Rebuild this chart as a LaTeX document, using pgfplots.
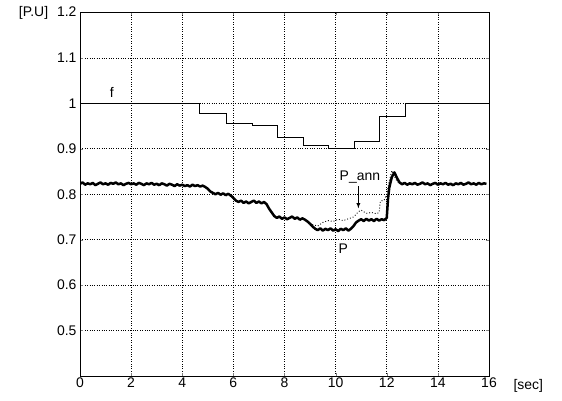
\documentclass[border=0pt]{standalone}
\usepackage{pgfplots}
\pgfplotsset{compat=1.18}
\usepackage{fontspec}
\setmainfont{Liberation Sans}
\begin{document}
\begin{tikzpicture}
\useasboundingbox (0,0) rectangle (562bp,401bp);
\begin{axis}[
  scale only axis,
  width=409bp, height=363.5bp,
  at={(80bp,25bp)}, anchor=south west,
  xmin=0, xmax=16, ymin=0.4, ymax=1.2,
  xtick={0,2,...,16},
  xticklabels={0,2,4,6,8,10,12,14,16},
  ytick={0.5,0.6,0.7,0.8,0.9,1.0,1.1,1.2},
  yticklabels={0.5,0.6,0.7,0.8,0.9,1,1.1,{[P.U]\hspace{9pt}1.2}},
  /pgf/number format/assume math mode=true,
  tick label style={font=\fontsize{14}{15}\selectfont},
  xticklabel style={yshift=2pt},
  yticklabel style={xshift=0pt},
  tick align=inside, major tick length=3pt,
  grid=major,
  major grid style={black, dotted, line width=0.7pt},
  axis line style={line width=1pt},
  clip=true,
]
\addplot[black, line width=0.8pt] coordinates {
(0,1.0) (4.69,1.0) (4.69,0.979) (5.74,0.979) (5.74,0.957) (6.75,0.957) (6.75,0.952) (7.73,0.952) (7.73,0.925) (8.72,0.925) (8.72,0.908) (9.7,0.908) (9.7,0.901) (10.72,0.901) (10.72,0.916) (11.73,0.916) (11.73,0.971) (12.71,0.971) (12.71,1.0) (16,1.0)
};
% P_ann (dotted)
\addplot[black, dotted, line width=0.9pt] coordinates {
(8.9,0.740) (9.0,0.735) (9.3,0.730) (9.5,0.738) (9.7,0.742) (9.9,0.740) (10.1,0.745) (10.3,0.742) (10.5,0.746) (10.7,0.750) (10.9,0.762) (11.0,0.765) (11.2,0.758) (11.4,0.760) (11.6,0.757) (11.7,0.760) (11.75,0.785) (11.9,0.787) (12.0,0.800) (12.1,0.830) (12.2,0.852) (12.3,0.840) (12.4,0.828) (12.6,0.822)
};
% P (thick noisy)
\addplot[black, line width=2.5pt, line join=round] coordinates {
(0.0,0.823) (0.1,0.826) (0.2,0.821) (0.3,0.824) (0.4,0.822) (0.5,0.825) (0.6,0.820) (0.7,0.823) (0.8,0.826) (0.9,0.822)
(1.0,0.824) (1.1,0.821) (1.2,0.825) (1.3,0.823) (1.4,0.826) (1.5,0.822) (1.6,0.824) (1.7,0.820) (1.8,0.823) (1.9,0.825)
(2.0,0.822) (2.1,0.824) (2.2,0.821) (2.3,0.825) (2.4,0.823) (2.5,0.820) (2.6,0.824) (2.7,0.822) (2.8,0.825) (2.9,0.821)
(3.0,0.823) (3.1,0.820) (3.2,0.824) (3.3,0.822) (3.4,0.819) (3.5,0.823) (3.6,0.821) (3.7,0.818) (3.8,0.822) (3.9,0.819)
(4.0,0.821) (4.1,0.818) (4.2,0.820) (4.3,0.817) (4.4,0.821) (4.5,0.818) (4.6,0.820) (4.7,0.817) (4.8,0.819) (4.9,0.816)
(5.0,0.812) (5.1,0.806) (5.2,0.803) (5.3,0.800) (5.4,0.803) (5.5,0.799) (5.6,0.802) (5.7,0.798) (5.8,0.801) (5.9,0.797)
(6.0,0.792) (6.1,0.786) (6.2,0.783) (6.3,0.786) (6.4,0.781) (6.5,0.784) (6.6,0.780) (6.7,0.783) (6.8,0.786) (6.9,0.781)
(7.0,0.784) (7.1,0.780) (7.2,0.783) (7.3,0.778) (7.4,0.768) (7.5,0.760) (7.6,0.752) (7.7,0.748) (7.8,0.751) (7.9,0.746)
(8.0,0.749) (8.1,0.745) (8.2,0.748) (8.3,0.751) (8.4,0.746) (8.5,0.749) (8.6,0.744) (8.7,0.747) (8.8,0.744) (8.9,0.740)
(9.0,0.735) (9.1,0.729) (9.2,0.724) (9.3,0.721) (9.4,0.725) (9.5,0.720) (9.6,0.724) (9.7,0.721) (9.8,0.725) (9.9,0.720)
(10.0,0.723) (10.1,0.719) (10.2,0.724) (10.3,0.721) (10.4,0.725) (10.5,0.720) (10.6,0.724) (10.7,0.730) (10.8,0.738) (10.9,0.742)
(11.0,0.745) (11.1,0.741) (11.2,0.746) (11.3,0.742) (11.4,0.745) (11.5,0.741) (11.6,0.746) (11.7,0.742) (11.8,0.745) (11.9,0.743)
(12.0,0.748) (12.05,0.790) (12.1,0.815) (12.2,0.838) (12.3,0.848) (12.4,0.836) (12.5,0.826) (12.6,0.822) (12.7,0.825) (12.8,0.821)
(12.9,0.824) (13.0,0.822) (13.1,0.825) (13.2,0.821) (13.3,0.823) (13.4,0.826) (13.5,0.822) (13.6,0.824) (13.7,0.820) (13.8,0.823)
(13.9,0.825) (14.0,0.821) (14.1,0.824) (14.2,0.822) (14.3,0.825) (14.4,0.821) (14.5,0.823) (14.6,0.820) (14.7,0.824) (14.8,0.822)
(14.9,0.825) (15.0,0.821) (15.1,0.823) (15.2,0.826) (15.3,0.822) (15.4,0.824) (15.5,0.821) (15.6,0.825) (15.7,0.822) (15.8,0.824) (15.9,0.823)
};
\node[font=\fontsize{14}{15}\selectfont] at (axis cs:1.24,1.024) {f};
\node[font=\fontsize{14}{15}\selectfont] at (axis cs:10.95,0.837) {P\_ann};
\node[font=\fontsize{14}{15}\selectfont] at (axis cs:10.3,0.681) {P};
\draw[-latex, line width=0.8pt] (axis cs:10.89,0.818) -- (axis cs:10.89,0.769);
\end{axis}
\node[anchor=west, font=\fontsize{14}{15}\selectfont] at (510bp,15bp) {[sec]};
\end{tikzpicture}
\end{document}
